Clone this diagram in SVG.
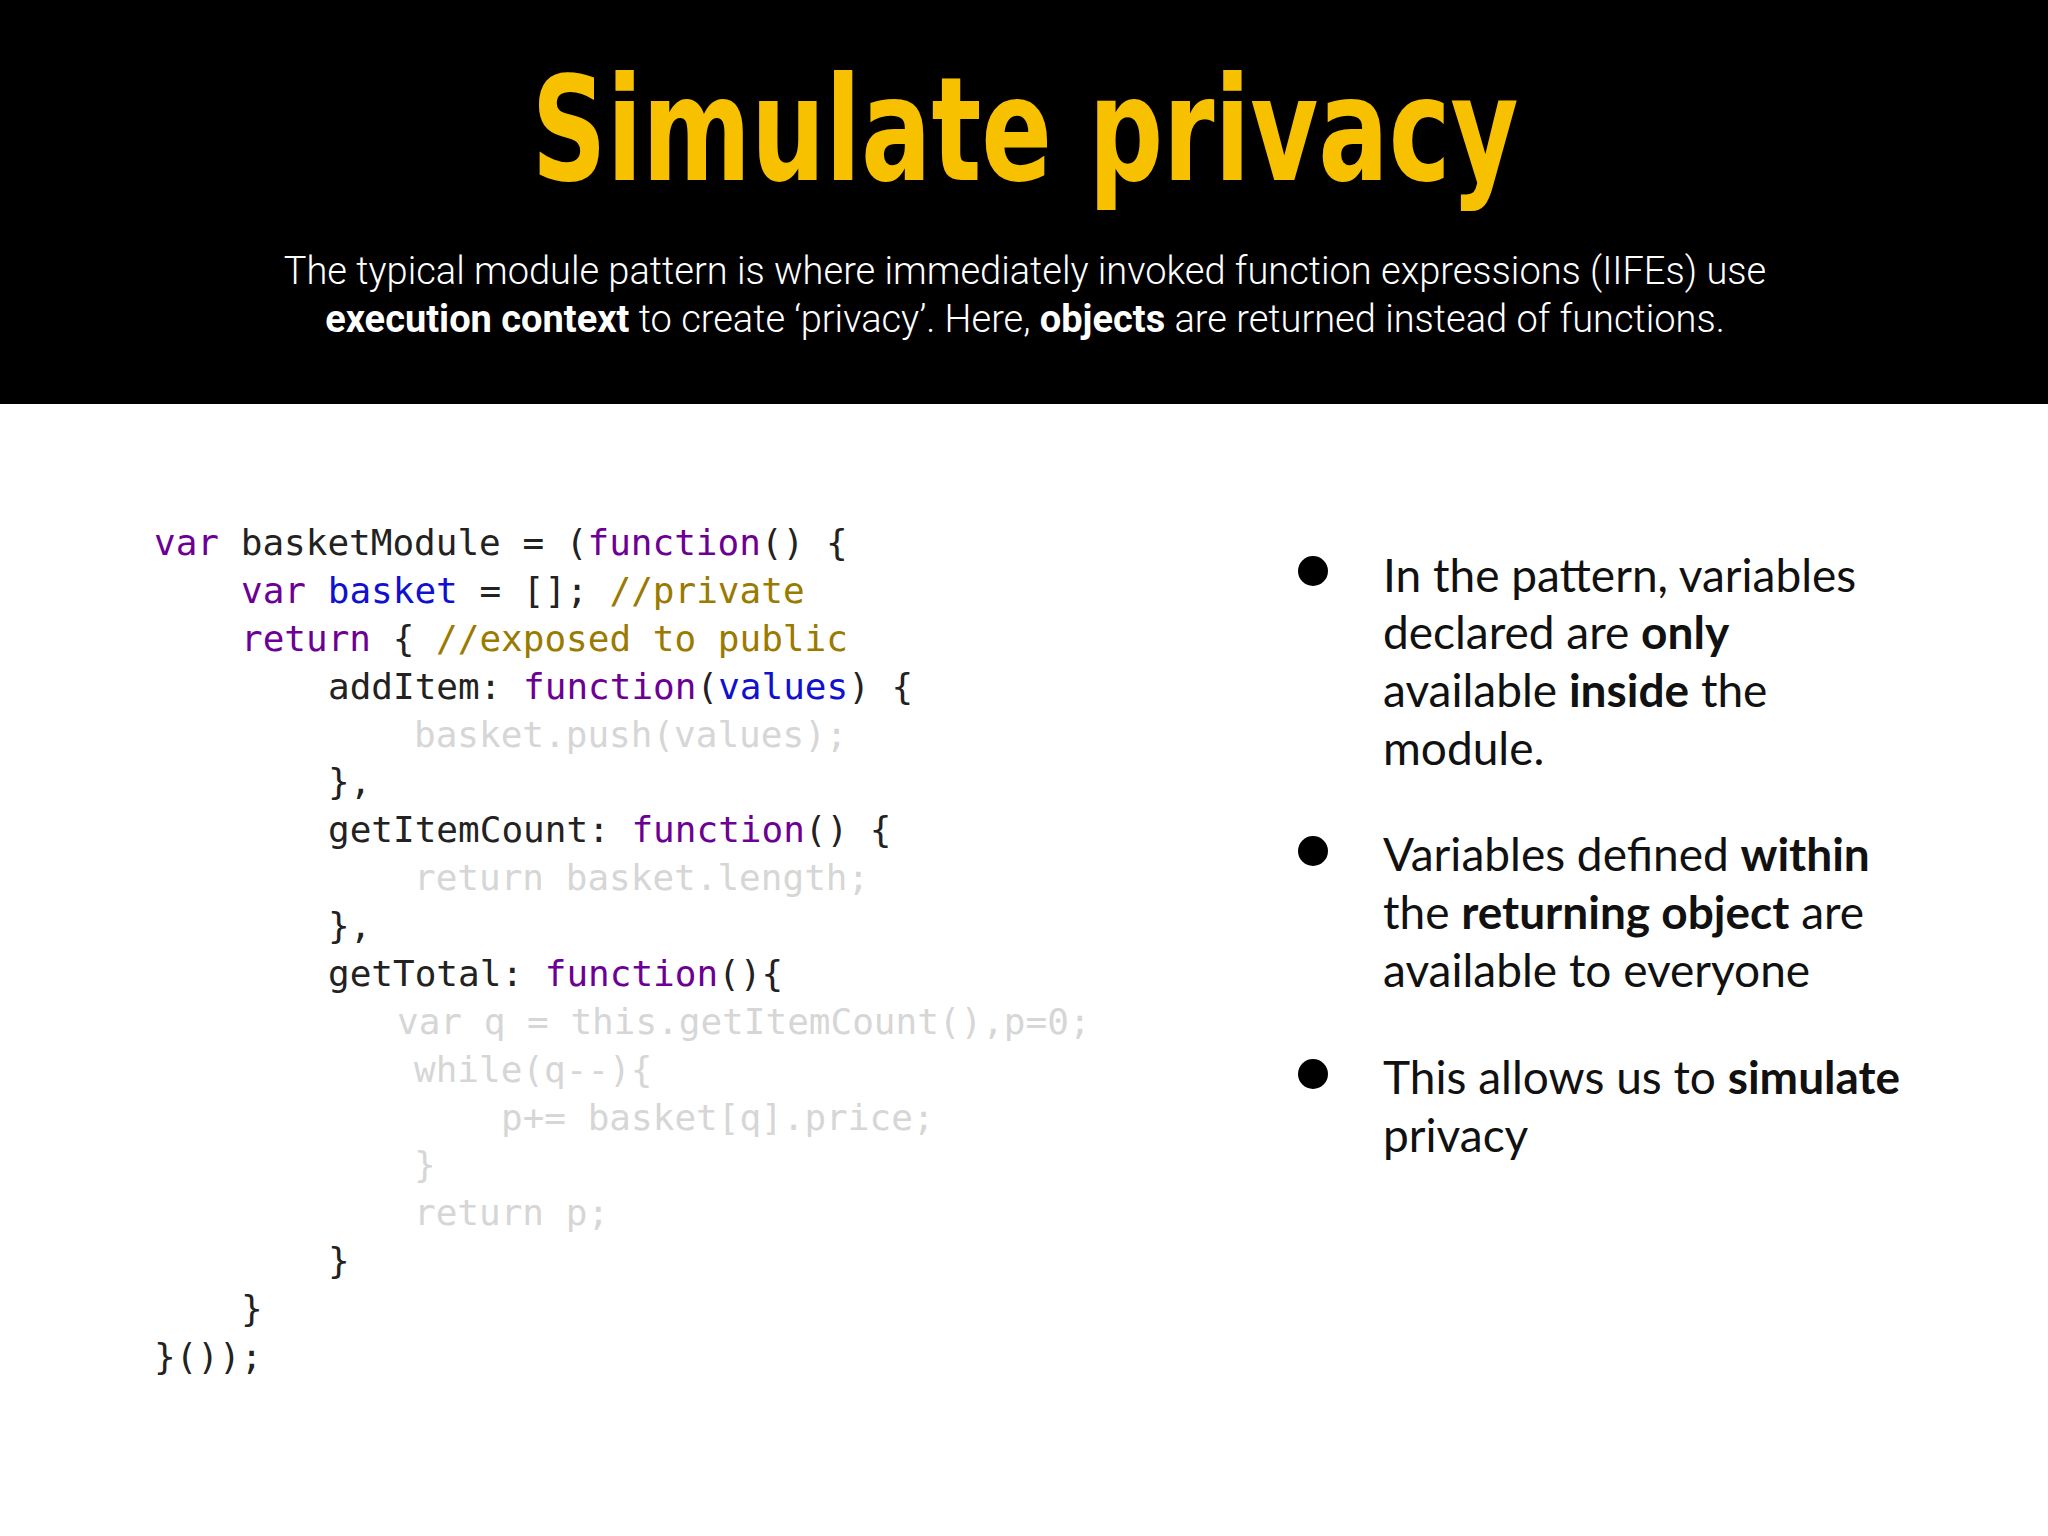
<svg xmlns="http://www.w3.org/2000/svg" width="2048" height="1536" viewBox="0 0 2048 1536">
<style>
.code{font-family:"DejaVu Sans Mono","Liberation Mono",monospace;font-size:36px;fill:#222}
.k{fill:#6c0094}.b{fill:#1010d0}.c{fill:#9a7a00}.f{fill:#d6d6d6}
.bt{font-family:"Lato","Open Sans",sans-serif;font-size:46px;fill:#111}
.bt tspan.s{font-weight:bold}
.sub{font-family:"Roboto","Lato",sans-serif;font-weight:300;font-size:38px;fill:#fff;text-anchor:middle}
</style>
<rect width="2048" height="1536" fill="#fff"/>
<rect width="2048" height="404" fill="#000"/>
<g id="title"><text x="1025" y="180" textLength="987" lengthAdjust="spacingAndGlyphs" text-anchor="middle" font-family="DejaVu Sans Condensed,Liberation Sans,sans-serif" font-weight="bold" font-size="145" fill="#f7c100">Simulate privacy</text></g>
<g id="subtitle">
<text class="sub" x="1025" y="284">The typical module pattern is where immediately invoked function expressions (IIFEs) use</text>
<text class="sub" x="1025" y="332"><tspan font-weight="bold">execution context</tspan> to create ‘privacy’. Here, <tspan font-weight="bold">objects</tspan> are returned instead of functions.</text>
</g>
<g id="code" class="code">
<text x="154" y="555"><tspan class="k">var</tspan> basketModule = (<tspan class="k">function</tspan>() {</text>
<text x="241" y="603"><tspan class="k">var</tspan> <tspan class="b">basket</tspan> = []; <tspan class="c">//private</tspan></text>
<text x="241" y="651"><tspan class="k">return</tspan> { <tspan class="c">//exposed to public</tspan></text>
<text x="328" y="699">addItem: <tspan class="k">function</tspan>(<tspan class="b">values</tspan>) {</text>
<text x="414" y="747" class="f">basket.push(values);</text>
<text x="328" y="794">},</text>
<text x="328" y="842">getItemCount: <tspan class="k">function</tspan>() {</text>
<text x="414" y="890" class="f">return basket.length;</text>
<text x="328" y="938">},</text>
<text x="328" y="986">getTotal: <tspan class="k">function</tspan>(){</text>
<text x="397" y="1034" class="f">var q = this.getItemCount(),p=0;</text>
<text x="414" y="1082" class="f">while(q--){</text>
<text x="501" y="1130" class="f">p+= basket[q].price;</text>
<text x="414" y="1177" class="f">}</text>
<text x="414" y="1225" class="f">return p;</text>
<text x="328" y="1273">}</text>
<text x="241" y="1321">}</text>
<text x="154" y="1369">}());</text>
</g>
<g id="bullet1">
<circle cx="1313" cy="571" r="15" fill="#000"/>
<text class="bt" x="1383" y="592">In the pattern, variables</text>
<text class="bt" x="1383" y="649">declared are <tspan class="s">only</tspan></text>
<text class="bt" x="1383" y="707">available <tspan class="s">inside</tspan> the</text>
<text class="bt" x="1383" y="765">module.</text>
</g>
<g id="bullet2">
<circle cx="1313" cy="851" r="15" fill="#000"/>
<text class="bt" x="1383" y="871">Variables defined <tspan class="s">within</tspan></text>
<text class="bt" x="1383" y="929">the <tspan class="s">returning object</tspan> are</text>
<text class="bt" x="1383" y="987">available to everyone</text>
</g>
<g id="bullet3">
<circle cx="1313" cy="1074" r="15" fill="#000"/>
<text class="bt" x="1383" y="1094">This allows us to <tspan class="s">simulate</tspan></text>
<text class="bt" x="1383" y="1152">privacy</text>
</g>
<g id="connectors"/>
</svg>
